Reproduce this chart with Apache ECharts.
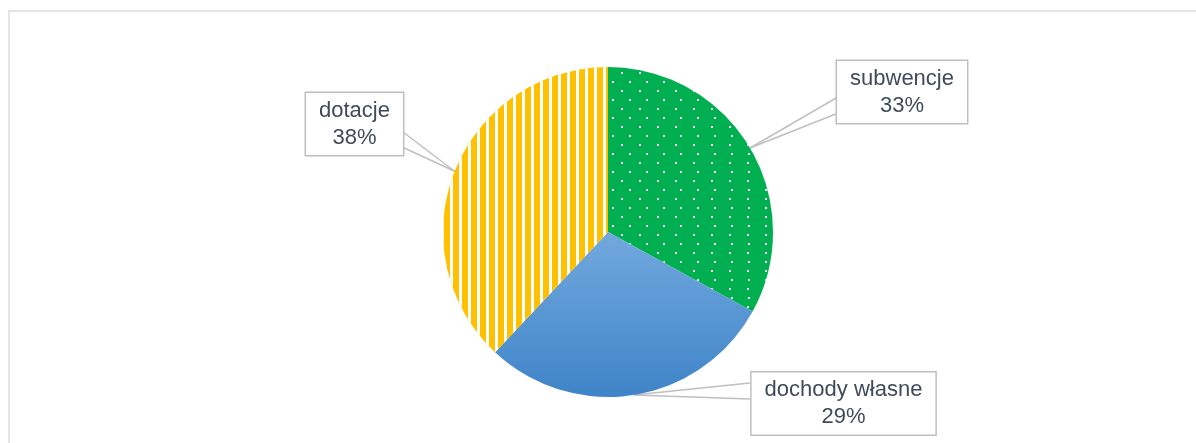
<!DOCTYPE html>
<html>
<head>
<meta charset="utf-8">
<script src="https://cdn.jsdelivr.net/npm/echarts@6/dist/echarts.min.js"></script>
<style>
html,body{margin:0;padding:0;background:#fff;overflow:hidden;}
#frame{position:absolute;left:8px;top:10px;width:1300px;height:500px;border-left:2px solid #e2e5ea;border-top:2px solid #e2e5ea;}
#chart{position:absolute;left:0;top:0;width:1196px;height:443px;}
</style>
</head>
<body>
<div id="frame"></div>
<div id="chart"></div>
<script>
const categories = ['subwencje', 'dochody własne', 'dotacje'];
const values = [33, 29, 38];

// label box centres and callout wedge base points (layout, not data)
const labelPos = [
  { x: 902, y: 92 },
  { x: 843.5, y: 403.5 },
  { x: 354.5, y: 124 }
];
const wedgeA = [ { x: 837, y: 97 }, { x: 750, y: 383 }, { x: 401, y: 130 } ];
const wedgeB = [ { x: 837, y: 113 }, { x: 750, y: 399 }, { x: 401, y: 146 } ];

const itemStyles = [
  {
    color: '#00b050',
    decal: {
      symbol: 'rect', symbolSize: 1, symbolKeepAspect: false, color: '#ffffff',
      dashArrayX: [[2, 15], [0, 8.5, 2, 6.5]],
      dashArrayY: [2, 6.5]
    }
  },
  {
    color: {
      type: 'linear', x: 0, y: 0, x2: 0, y2: 1,
      colorStops: [{ offset: 0, color: '#72a9de' }, { offset: 1, color: '#3f84c8' }]
    }
  },
  {
    color: '#ffc000',
    decal: {
      symbol: 'rect', symbolSize: 1, symbolKeepAspect: false, color: '#ffffff',
      dashArrayX: [2.6, 5.9],
      dashArrayY: [1, 0]
    }
  }
];

function wedgeSeries(points) {
  return {
    type: 'pie',
    center: [608, 232],
    radius: 165,
    startAngle: 90,
    clockwise: true,
    silent: true,
    z: 1,
    itemStyle: { color: 'rgba(0,0,0,0)' },
    label: {
      show: true, position: 'outside', formatter: ' ', fontSize: 1,
      color: 'rgba(0,0,0,0)', padding: 0
    },
    labelLine: {
      show: true, length: 0, length2: 0, smooth: false,
      lineStyle: { color: '#bfbfbf', width: 1.5 }
    },
    labelLayout: function (params) {
      const p = points[params.dataIndex];
      return { x: p.x, y: p.y, align: 'center', verticalAlign: 'middle' };
    },
    emphasis: { disabled: true },
    data: categories.map((c, i) => ({ name: c, value: values[i] }))
  };
}

const chart = echarts.init(document.getElementById('chart'), null, { renderer: 'canvas' });
chart.setOption({
  animation: false,
  backgroundColor: 'transparent',
  series: [
    wedgeSeries(wedgeA),
    wedgeSeries(wedgeB),
    {
      type: 'pie',
      center: [608, 232],
      radius: 165,
      startAngle: 90,
      clockwise: true,
      z: 2,
      label: {
        show: true,
        position: 'outside',
        formatter: p => p.name + '\n' + p.value + '%',
        fontFamily: 'Liberation Sans, Arial, sans-serif',
        fontSize: 22,
        lineHeight: 27,
        color: '#3f4b5b',
        backgroundColor: '#ffffff',
        borderColor: '#bfbfbf',
        borderWidth: 1.5,
        padding: [5, 13, 3, 13],
        align: 'center'
      },
      labelLine: { show: false },
      labelLayout: function (params) {
        const p = labelPos[params.dataIndex];
        return { x: p.x, y: p.y, align: 'center', verticalAlign: 'middle' };
      },
      emphasis: { disabled: true },
      data: categories.map((c, i) => ({ name: c, value: values[i], itemStyle: itemStyles[i] }))
    }
  ]
});
</script>
</body>
</html>
